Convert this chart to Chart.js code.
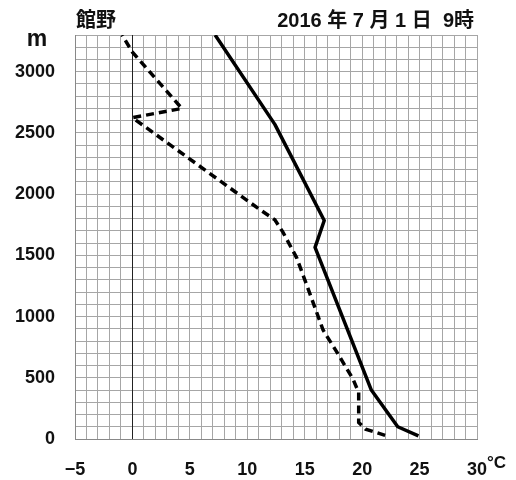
<!DOCTYPE html>
<html>
<head>
<meta charset="utf-8">
<script src="https://cdn.jsdelivr.net/npm/chart.js@4/dist/chart.umd.min.js"></script>
<style>
  html, body { margin: 0; padding: 0; background: #fff; }
  #wrap { width: 516px; height: 480px; }
</style>
</head>
<body>
<div id="wrap"><canvas id="c" width="516" height="480"></canvas></div>
<script>
// Tateno upper-air sounding, 2016-07-01 09 JST
const stationName = '館野';
const obsTime = '2016 年 7 月 1 日  9時';

// Temperature profile (°C) vs height (m)
const tempC = [24.9, 23.1, 20.8, 15.9, 16.7, 12.4, 7.2];
const tempH = [25, 100, 400, 1565, 1785, 2570, 3300];

// Dew-point profile (°C) vs height (m)
const dewC = [22.0, 20.3, 19.7, 19.7, 19.2, 17.8, 16.6, 15.4, 14.3, 13.1, 12.4, 11.0, 0.0, 4.3, 0.0, -0.9];
const dewH = [30, 80, 135, 380, 490, 710, 890, 1200, 1480, 1690, 1790, 1880, 2625, 2700, 3160, 3300];

// Axis ranges and labelled tick steps
const xRange = [-5, 30];
const yRange = [0, 3300];
const xLabelStep = 5;
const yLabelStep = 500;

const toPoints = (xs, ys) => xs.map((x, i) => ({ x: x, y: ys[i] }));

const FONT = '"Liberation Sans", Arial, "Noto Sans CJK JP", sans-serif';

// 0 °C reference line, drawn over the grid so crossing lines don't break it
const zeroLine = {
  id: 'zeroLine',
  beforeDatasetsDraw(chart) {
    const { ctx, chartArea, scales } = chart;
    const x = Math.round(scales.x.getPixelForValue(0)) + 0.5;
    ctx.save();
    ctx.strokeStyle = '#222';
    ctx.lineWidth = 1;
    ctx.beginPath();
    ctx.moveTo(x, chartArea.top);
    ctx.lineTo(x, chartArea.bottom);
    ctx.stroke();
    ctx.restore();
  }
};

const textPlugin = {
  id: 'headerText',
  afterDraw(chart) {
    const ctx = chart.ctx;
    ctx.save();
    ctx.fillStyle = '#111';
    ctx.textBaseline = 'alphabetic';
    ctx.font = 'bold 20px "Noto Sans CJK JP", sans-serif';
    ctx.textAlign = 'left';
    ctx.fillText(stationName, 76, 27);
    ctx.font = 'bold 20px ' + FONT;
    ctx.textAlign = 'right';
    ctx.fillText(obsTime, 474, 27);
    ctx.font = 'bold 23px ' + FONT;
    ctx.textAlign = 'center';
    ctx.fillText('m', 37, 46);
    ctx.font = 'bold 17px ' + FONT;
    ctx.textAlign = 'left';
    ctx.fillText('°C', 487, 468);
    ctx.restore();
  }
};

new Chart(document.getElementById('c'), {
  type: 'scatter',
  data: {
    datasets: [
      {
        label: '気温',
        data: toPoints(tempC, tempH),
        showLine: true,
        borderColor: '#000',
        borderWidth: 3.5,
        pointRadius: 0,
        tension: 0,
        borderJoinStyle: 'round'
      },
      {
        label: '露点温度',
        data: toPoints(dewC, dewH),
        showLine: true,
        borderColor: '#000',
        borderWidth: 3.5,
        borderDash: [8, 5],
        pointRadius: 0,
        tension: 0
      }
    ]
  },
  options: {
    responsive: false,
    animation: false,
    layout: { padding: { left: 0, right: 39, top: 35, bottom: 0 } },
    plugins: { legend: { display: false }, tooltip: { enabled: false } },
    scales: {
      x: {
        type: 'linear',
        min: xRange[0],
        max: xRange[1],
        afterFit(scale) { scale.height = 41; },
        border: { display: true, color: '#888', width: 1 },
        grid: {
          drawTicks: false,
          color: '#a6a6a6',
          lineWidth: 1
        },
        ticks: {
          stepSize: 1,
          autoSkip: false,
          maxRotation: 0,
          padding: 20,
          color: '#111',
          font: { family: FONT, size: 18, weight: 'bold' },
          callback: (v) => (v % xLabelStep === 0 ? (v < 0 ? '\u2212' + Math.abs(v) : String(v)) : '')
        }
      },
      y: {
        type: 'linear',
        min: yRange[0],
        max: yRange[1],
        afterFit(scale) { scale.width = 75; },
        border: { display: true, color: '#888', width: 1 },
        grid: {
          drawTicks: false,
          color: '#a6a6a6',
          lineWidth: 1
        },
        ticks: {
          stepSize: 100,
          autoSkip: false,
          padding: 20,
          color: '#111',
          font: { family: FONT, size: 18, weight: 'bold' },
          callback: (v) => (v % yLabelStep === 0 ? String(v) : '')
        }
      }
    }
  },
  plugins: [zeroLine, textPlugin]
});
</script>
</body>
</html>
